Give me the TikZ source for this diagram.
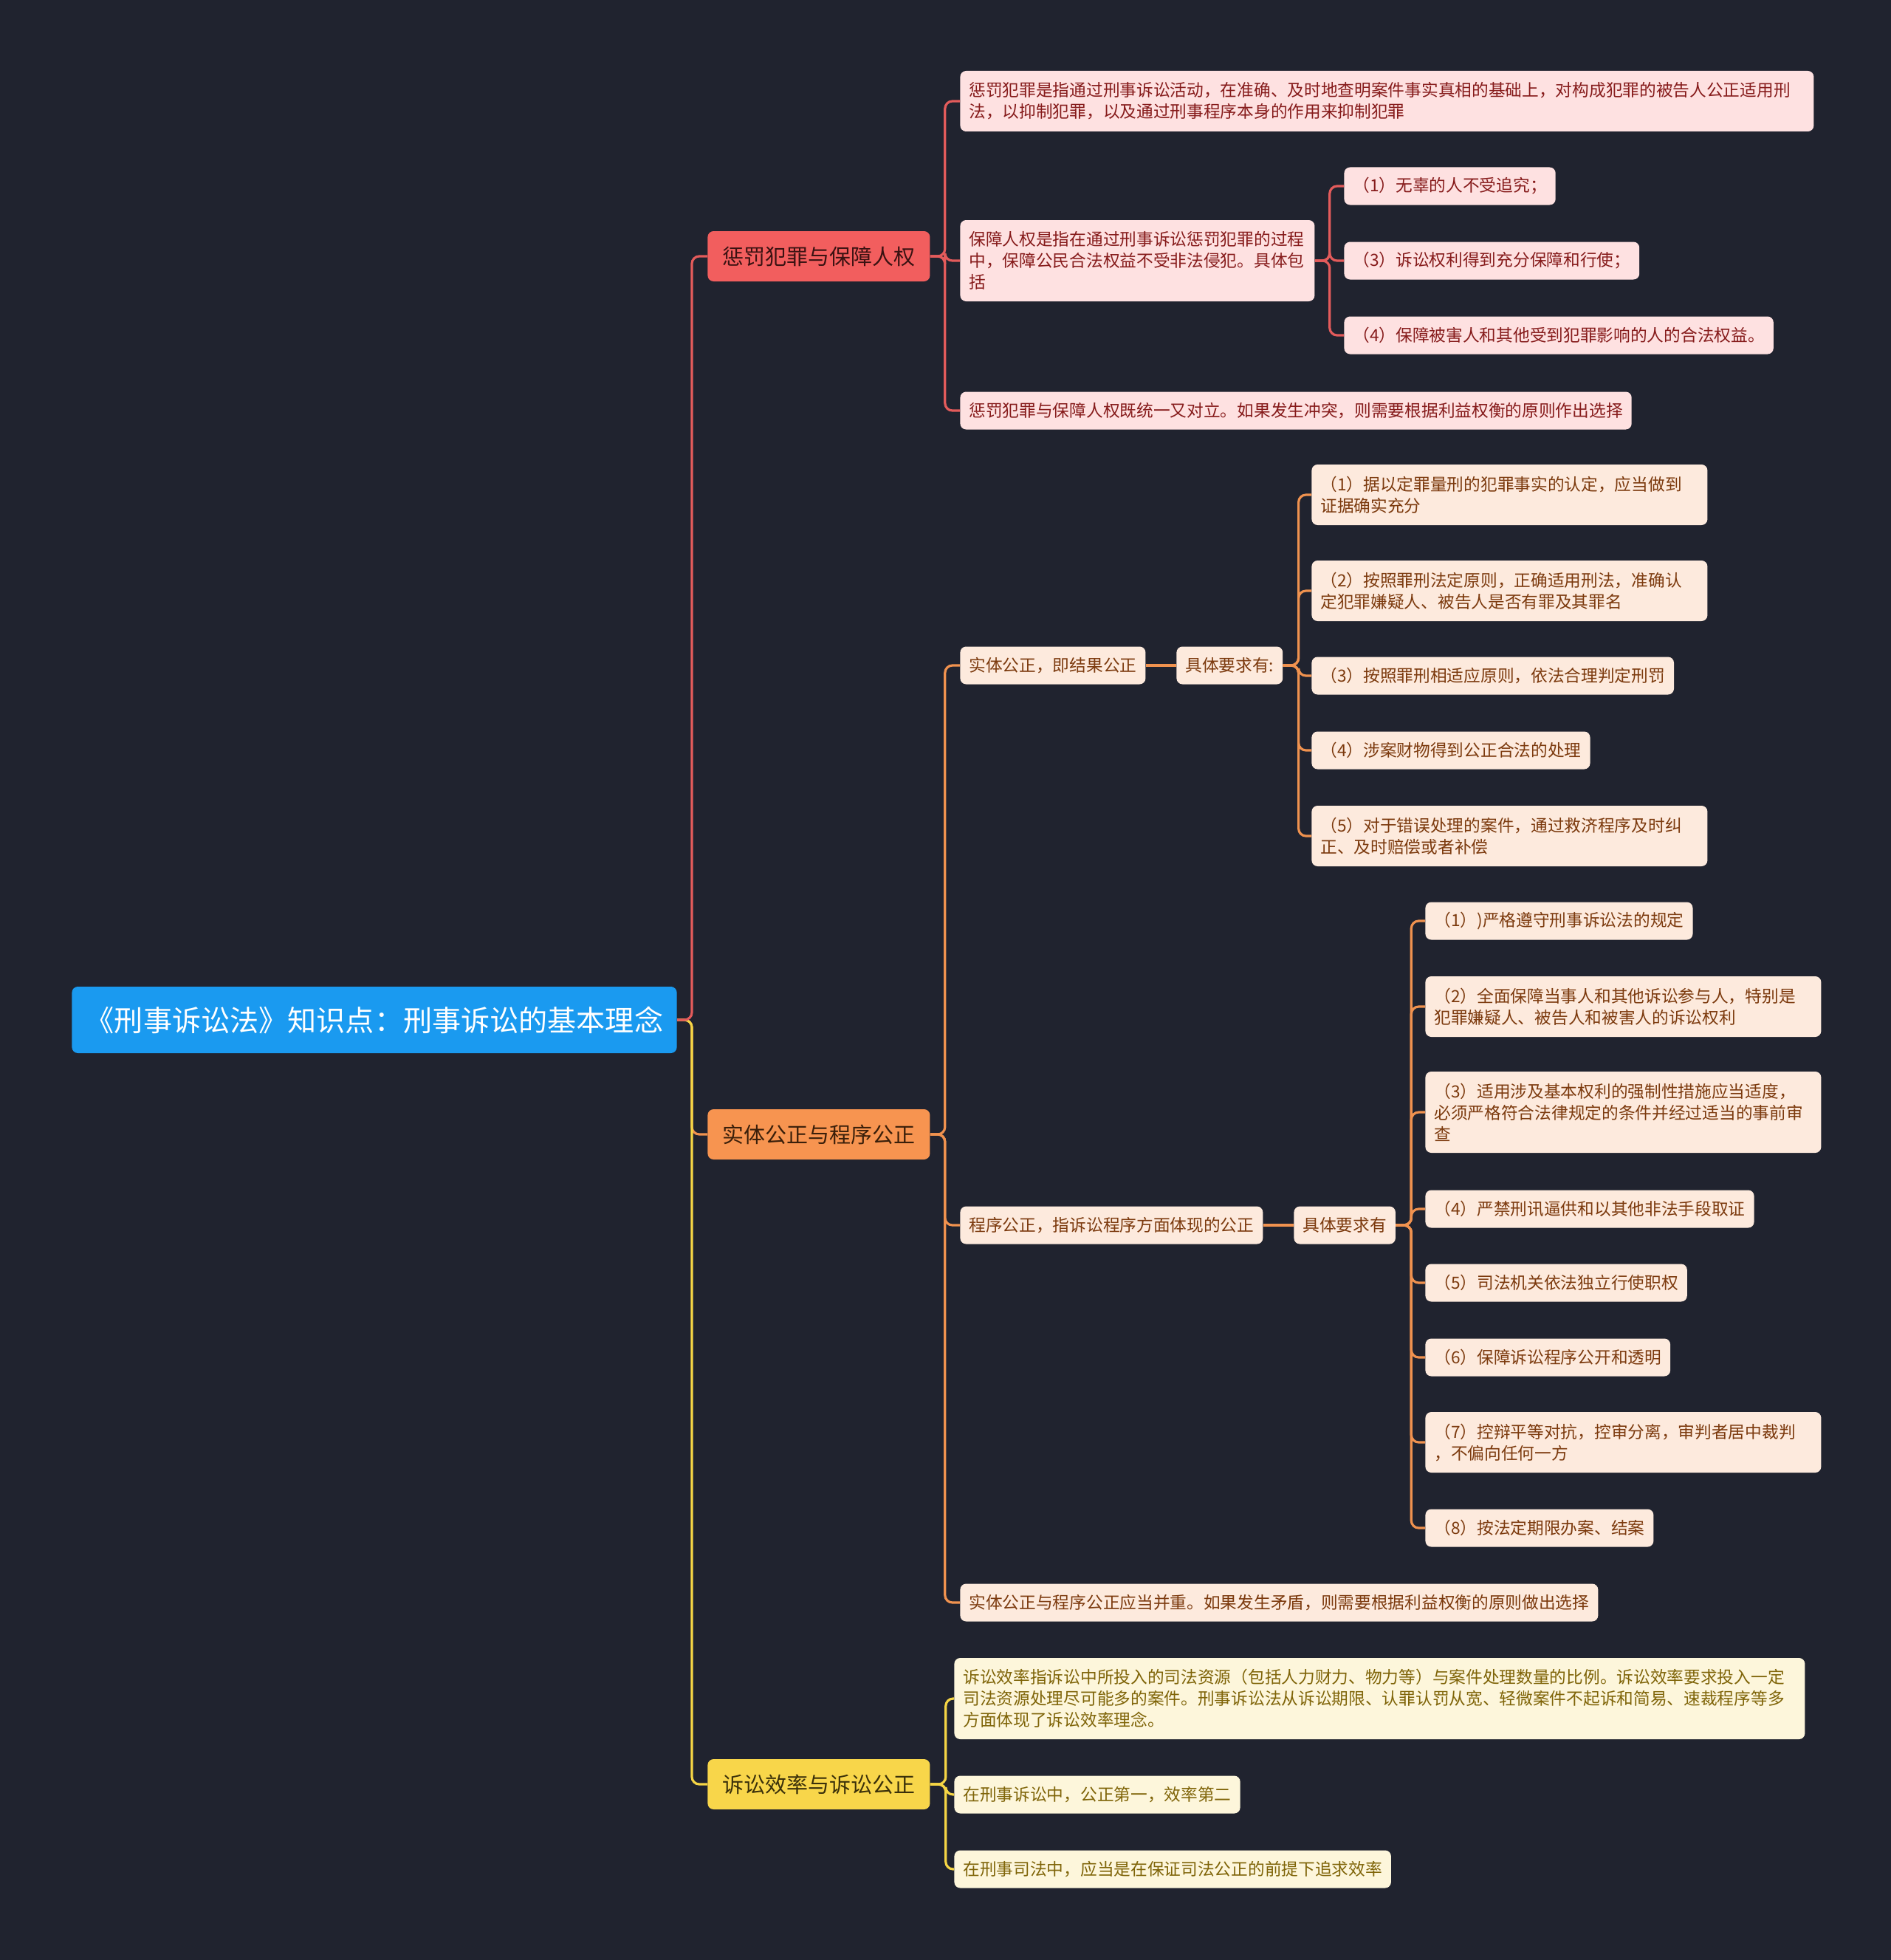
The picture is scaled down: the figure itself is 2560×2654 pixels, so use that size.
\documentclass[tikz,border=0pt]{standalone}
\usepackage{fontspec}
\setmainfont{Noto Sans CJK SC}
\definecolor{bg}{HTML}{20232F}
\definecolor{rootc}{HTML}{1A9AF0}
\definecolor{Lred}{HTML}{F25E5E}
\definecolor{Lredt}{HTML}{3A1212}
\definecolor{Lor}{HTML}{F79450}
\definecolor{Lort}{HTML}{3A1F0A}
\definecolor{Lye}{HTML}{F8D64A}
\definecolor{Lyet}{HTML}{3A300A}
\definecolor{redf}{HTML}{FEE1E1}
\definecolor{redt}{HTML}{861B1B}
\definecolor{orf}{HTML}{FDEADD}
\definecolor{ort}{HTML}{7C3A0E}
\definecolor{yef}{HTML}{FDF6DB}
\definecolor{yet}{HTML}{7F6408}
\definecolor{redline}{HTML}{E35B5B}
\definecolor{orline}{HTML}{F0924F}
\definecolor{yeline}{HTML}{F5D545}
\begin{document}
\begin{tikzpicture}[x=0.5pt,y=-0.5pt,
  base/.style={rounded corners=4pt, anchor=west, align=left, inner ysep=0pt, inner xsep=6pt},
  rootbox/.style={base, fill=rootc, text=white, font=\fontsize{19.56pt}{24pt}\selectfont, inner xsep=9.2pt, minimum height=45pt},
  lone/.style={base, font=\fontsize{14.5pt}{18pt}\selectfont, inner xsep=10pt, minimum height=34pt},
  leaf/.style={base, font=\fontsize{11.35pt}{14.5pt}\selectfont},
  hone/.style={minimum height=25.5pt},
  htwo/.style={minimum height=41pt},
  hthree/.style={minimum height=55pt},
  rleaf/.style={leaf, fill=redf, text=redt},
  oleaf/.style={leaf, fill=orf, text=ort},
  yleaf/.style={leaf, fill=yef, text=yet},
  conn/.style={line width=1.6pt, rounded corners=5pt},
  redl/.style={conn, draw=redline},
  orl/.style={conn, draw=orline},
  yel/.style={conn, draw=yeline}]
\useasboundingbox (0,0) rectangle (2560,2654);
\fill[bg] (-20,-20) rectangle (2580,2674);

% root and level 1
\node[rootbox] (R) at (97,1381) {《刑事诉讼法》知识点：刑事诉讼的基本理念};
\node[lone, fill=Lred, text=Lredt] (P1) at (958,347) {惩罚犯罪与保障人权};
\node[lone, fill=Lor, text=Lort] (P2) at (958,1536) {实体公正与程序公正};
\node[lone, fill=Lye, text=Lyet] (P3) at (958,2416) {诉讼效率与诉讼公正};

% red branch
\node[rleaf, htwo, text width=566pt] (A1) at (1300,137) {惩罚犯罪是指通过刑事诉讼活动，在准确、及时地查明案件事实真相的基础上，对构成犯罪的被告人公正适用刑\\法，以抑制犯罪，以及通过刑事程序本身的作用来抑制犯罪};
\node[rleaf, hthree, text width=228pt] (A2) at (1300,353) {保障人权是指在通过刑事诉讼惩罚犯罪的过程\\中，保障公民合法权益不受非法侵犯。具体包\\括};
\node[rleaf, hone] (A3) at (1300,556) {惩罚犯罪与保障人权既统一又对立。如果发生冲突，则需要根据利益权衡的原则作出选择};
\node[rleaf, hone] (A21) at (1820,252) {（1）无辜的人不受追究；};
\node[rleaf, hone] (A22) at (1820,353) {（3）诉讼权利得到充分保障和行使；};
\node[rleaf, hone] (A23) at (1820,454) {（4）保障被害人和其他受到犯罪影响的人的合法权益。};

% orange branch
\node[oleaf, hone] (B1) at (1300,901) {实体公正，即结果公正};
\node[oleaf, hone] (B1a) at (1593,901) {具体要求有:};
\node[oleaf, htwo, text width=256pt] (B11) at (1776,670) {（1）据以定罪量刑的犯罪事实的认定，应当做到\\证据确实充分};
\node[oleaf, htwo, text width=256pt] (B12) at (1776,800) {（2）按照罪刑法定原则，正确适用刑法，准确认\\定犯罪嫌疑人、被告人是否有罪及其罪名};
\node[oleaf, hone] (B13) at (1776,915) {（3）按照罪刑相适应原则，依法合理判定刑罚};
\node[oleaf, hone] (B14) at (1776,1016) {（4）涉案财物得到公正合法的处理};
\node[oleaf, htwo, text width=256pt] (B15) at (1776,1132) {（5）对于错误处理的案件，通过救济程序及时纠\\正、及时赔偿或者补偿};
\node[oleaf, hone] (B2) at (1300,1659) {程序公正，指诉讼程序方面体现的公正};
\node[oleaf, hone] (B2a) at (1752,1659) {具体要求有};
\node[oleaf, hone] (Q1) at (1930,1247) {（1）)严格遵守刑事诉讼法的规定};
\node[oleaf, htwo, text width=256pt] (Q2) at (1930,1363) {（2）全面保障当事人和其他诉讼参与人，特别是\\犯罪嫌疑人、被告人和被害人的诉讼权利};
\node[oleaf, hthree, text width=256pt] (Q3) at (1930,1506) {（3）适用涉及基本权利的强制性措施应当适度，\\必须严格符合法律规定的条件并经过适当的事前审\\查};
\node[oleaf, hone] (Q4) at (1930,1637) {（4）严禁刑讯逼供和以其他非法手段取证};
\node[oleaf, hone] (Q5) at (1930,1737) {（5）司法机关依法独立行使职权};
\node[oleaf, hone] (Q6) at (1930,1838) {（6）保障诉讼程序公开和透明};
\node[oleaf, htwo, text width=256pt] (Q7) at (1930,1953) {（7）控辩平等对抗，控审分离，审判者居中裁判\\，不偏向任何一方};
\node[oleaf, hone] (Q8) at (1930,2069) {（8）按法定期限办案、结案};
\node[oleaf, hone] (B3) at (1300,2170) {实体公正与程序公正应当并重。如果发生矛盾，则需要根据利益权衡的原则做出选择};

% yellow branch
\node[yleaf, hthree, text width=564pt] (Y1) at (1292,2300) {诉讼效率指诉讼中所投入的司法资源（包括人力财力、物力等）与案件处理数量的比例。诉讼效率要求投入一定\\司法资源处理尽可能多的案件。刑事诉讼法从诉讼期限、认罪认罚从宽、轻微案件不起诉和简易、速裁程序等多\\方面体现了诉讼效率理念。};
\node[yleaf, hone] (Y2) at (1292,2430) {在刑事诉讼中，公正第一，效率第二};
\node[yleaf, hone] (Y3) at (1292,2531) {在刑事司法中，应当是在保证司法公正的前提下追求效率};

% connectors root -> level 1
\draw[orl] (R.east) -- ++(20,0) |- (P2.west);
\draw[yel] (R.east) -- ++(20,0) |- (P3.west);
\draw[redl] (R.east) -- ++(20,0) |- (P1.west);

% red connectors
\foreach \c in {A1,A2,A3} \draw[redl] (P1.east) -- ++(20,0) |- (\c.west);
\foreach \c in {A21,A22,A23} \draw[redl] (A2.east) -- ++(20,0) |- (\c.west);

% orange connectors
\foreach \c in {B1,B2,B3} \draw[orl] (P2.east) -- ++(20,0) |- (\c.west);
\draw[orl] (B1.east) -- (B1a.west);
\foreach \c in {B11,B12,B13,B14,B15} \draw[orl] (B1a.east) -- ++(21,0) |- (\c.west);
\draw[orl] (B2.east) -- (B2a.west);
\foreach \c in {Q1,Q2,Q3,Q4,Q5,Q6,Q7,Q8} \draw[orl] (B2a.east) -- ++(21,0) |- (\c.west);

% yellow connectors
\foreach \c in {Y1,Y2,Y3} \draw[yel] (P3.east) -- ++(21,0) |- (\c.west);
\end{tikzpicture}
\end{document}
